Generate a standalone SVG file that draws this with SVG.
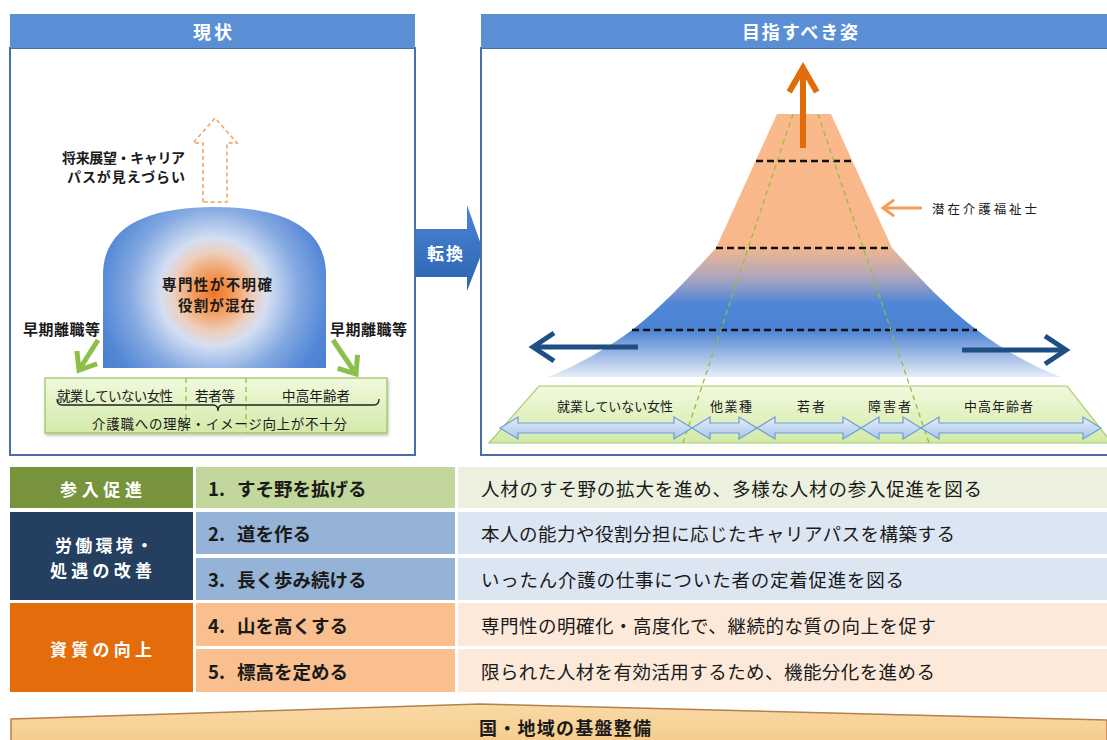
<svg xmlns="http://www.w3.org/2000/svg" width="1107" height="740" viewBox="0 0 1107 740">
<style>
text{font-family:"Noto Sans CJK JP","Noto Sans CJK SC",sans-serif;dominant-baseline:central;fill:#1a1a1a}
.hd{fill:#5a8fd6}
.hdt{fill:#ffffff;font-weight:700;font-size:18px}
.panel{fill:#ffffff;stroke:#4a6eaa;stroke-width:2}
.b{font-weight:700}
.sm{font-size:13.5px}
.lab{font-size:13px}
.blk{stroke:#111;stroke-width:2.5;stroke-dasharray:7 4;fill:none}
.gdash{stroke:#8dc040;stroke-width:1.3;stroke-dasharray:5 4;fill:none}
.dbl{fill:url(#gDbl);stroke:#6f9bd4;stroke-width:1.2}
.c2{font-size:18.5px;font-weight:700}
.c3{font-size:18.5px}
.c1{font-size:17px;font-weight:700;fill:#ffffff}
</style>
<defs>
<radialGradient id="gDome" gradientUnits="userSpaceOnUse" cx="214" cy="292" r="135">
<stop offset="0" stop-color="#f07424"/>
<stop offset="0.14" stop-color="#f39a58"/>
<stop offset="0.3" stop-color="#edd0c0"/>
<stop offset="0.4" stop-color="#d3dff2"/>
<stop offset="0.62" stop-color="#86aae2"/>
<stop offset="0.85" stop-color="#5387d6"/>
<stop offset="1" stop-color="#4a7fd0"/>
</radialGradient>
<linearGradient id="gMt" gradientUnits="userSpaceOnUse" x1="0" y1="114" x2="0" y2="377">
<stop offset="0" stop-color="#f9b98b"/>
<stop offset="0.5" stop-color="#f8b88b"/>
<stop offset="0.62" stop-color="#aea6bd"/>
<stop offset="0.72" stop-color="#5086d6"/>
<stop offset="0.82" stop-color="#4a82d4"/>
<stop offset="0.91" stop-color="#9ab6e4"/>
<stop offset="1" stop-color="#e6edf8"/>
</linearGradient>
<linearGradient id="gGreen" x1="0" y1="0" x2="0" y2="1">
<stop offset="0" stop-color="#f1f9de"/>
<stop offset="1" stop-color="#d3eaa8"/>
</linearGradient>
<linearGradient id="gDbl" x1="0" y1="0" x2="0" y2="1">
<stop offset="0" stop-color="#e4eefa"/>
<stop offset="1" stop-color="#a9c6ec"/>
</linearGradient>
<linearGradient id="gTrans" x1="0" y1="0" x2="0" y2="1">
<stop offset="0" stop-color="#4b86d3"/>
<stop offset="1" stop-color="#2c63b2"/>
</linearGradient>
<linearGradient id="gBase" x1="0" y1="0" x2="0" y2="1">
<stop offset="0" stop-color="#f9d9a6"/>
<stop offset="1" stop-color="#f7cd8d"/>
</linearGradient>
<filter id="sh" x="-5%" y="-20%" width="110%" height="150%">
<feDropShadow dx="1" dy="2" stdDeviation="1.5" flood-color="#000" flood-opacity="0.25"/>
</filter>
<marker id="mBlue" markerUnits="strokeWidth" viewBox="-5 -3.5 6 7" markerWidth="6" markerHeight="7" refX="0" refY="0" orient="auto" overflow="visible">
<path d="M-4.2,-2.8 L0,0 L-4.2,2.8" fill="none" stroke="#1f4e85" stroke-width="1"/>
</marker>
<marker id="mOrange" markerUnits="strokeWidth" viewBox="-5 -3 6 6" markerWidth="6" markerHeight="6" refX="0" refY="0" orient="auto" overflow="visible">
<path d="M-4,-2.3 L0,0 L-4,2.3" fill="none" stroke="#e36c0a" stroke-width="1"/>
</marker>
<marker id="mGreen" markerUnits="strokeWidth" viewBox="-4 -3 5 6" markerWidth="5" markerHeight="6" refX="0" refY="0" orient="auto" overflow="visible">
<path d="M-3,-2.4 L0,0 L-3,2.4" fill="none" stroke="#8cbf4b" stroke-width="1"/>
</marker>
<marker id="mOrangeS" markerUnits="strokeWidth" viewBox="-5 -3 6 6" markerWidth="6" markerHeight="6" refX="0" refY="0" orient="auto" overflow="visible">
<path d="M-3.7,-2.7 L0,0 L-3.7,2.7" fill="none" stroke="#f59d56" stroke-width="1"/>
</marker>
</defs>

<rect width="1107" height="740" fill="#ffffff"/>

<!-- Left panel -->
<g id="panel-current">
<rect class="panel" x="10" y="48" width="405" height="407"/>
<rect class="hd" x="10" y="14" width="405" height="34"/>
<text class="hdt" x="193" y="31" textLength="39">現状</text>
</g>

<g id="dome">
<path d="M103,368 L103,275 C103,225 150,207 214.5,207 C279,207 326,225 326,275 L326,368 Z" fill="url(#gDome)"/>
<text class="b" x="162" y="283" font-size="14.5" textLength="110">専門性が不明確</text>
<text class="b" x="178" y="304" font-size="14.5" textLength="77">役割が混在</text>
</g>

<g id="career-arrow">
<path d="M203,202 L203,143 L193,143 L215,118 L237,143 L227,143 L227,202 Z" fill="#ffffff" stroke="#f0a060" stroke-width="1.5" stroke-dasharray="4 3"/>
<text class="b" x="62" y="157" font-size="14" textLength="123">将来展望・キャリア</text>
<text class="b" x="67" y="176" font-size="14" textLength="118">パスが見えづらい</text>
</g>

<g id="early-leave-left">
<text class="b" x="23" y="328" font-size="15" textLength="77">早期離職等</text>
</g>
<g id="early-leave-right">
<text class="b" x="330" y="328" font-size="15" textLength="77">早期離職等</text>
</g>

<g id="current-groups">
<rect x="45" y="378" width="342" height="55" fill="url(#gGreen)" stroke="#9bc25a" stroke-width="1.2" filter="url(#sh)"/>
<line class="gdash" x1="186" y1="378" x2="186" y2="433"/>
<line class="gdash" x1="246" y1="378" x2="246" y2="433"/>
<text class="sm" x="57" y="395" textLength="116">就業していない女性</text>
<text class="sm" x="195" y="395" textLength="40">若者等</text>
<text class="sm" x="282" y="395" textLength="68">中高年齢者</text>
<path d="M57,399 Q57,405 62,405 L213,405 Q218,405 218,411 Q218,405 223,405 L374,405 Q379,405 379,399" fill="none" stroke="#222" stroke-width="1.3"/>
<text class="sm" x="92" y="423" textLength="255">介護職への理解・イメージ向上が不十分</text>
</g>

<!-- Transform arrow -->
<g id="transform">
<path d="M415,229 L467,229 L467,205 L483,250 L467,291 L467,277 L415,277 Z" fill="url(#gTrans)"/>
<text class="b" x="427" y="252" font-size="17" textLength="36" style="fill:#ffffff">転換</text>
</g>

<!-- Right panel -->
<g id="panel-target">
<rect class="panel" x="481" y="48" width="640" height="407"/>
<rect class="hd" x="481" y="14" width="640" height="34"/>
<text class="hdt" x="742" y="31" textLength="116">目指すべき姿</text>
</g>

<g id="mountain">
<path d="M777,114 L831,114 L892,248 C918,276 945,306 977,330 C1000,348 1030,365 1061,377 L548,377 C578,365 608,348 632,330 C663,306 690,276 716,248 Z" fill="url(#gMt)"/>
<line class="blk" x1="756" y1="161" x2="852" y2="161"/>
<line class="blk" x1="716" y1="248" x2="892" y2="248"/>
<line class="blk" x1="632" y1="330" x2="977" y2="330"/>
</g>

<g id="target-groups">
<path d="M539,386 L1067,386 L1112,443 L489,443 Z" fill="url(#gGreen)" stroke="#a8cc6a" stroke-width="1.2"/>
<line class="gdash" x1="793" y1="114" x2="683" y2="443"/>
<line class="gdash" x1="818" y1="114" x2="929" y2="443"/>
<path class="dbl" d="M500,428 L518,417 L518,423 L674,423 L674,417 L692,428 L674,439 L674,433 L518,433 L518,439 Z"/>
<path class="dbl" d="M692,428 L710,417 L710,423 L739,423 L739,417 L757,428 L739,439 L739,433 L710,433 L710,439 Z"/>
<path class="dbl" d="M757,428 L775,417 L775,423 L843,423 L843,417 L861,428 L843,439 L843,433 L775,433 L775,439 Z"/>
<path class="dbl" d="M861,428 L879,417 L879,423 L903,423 L903,417 L921,428 L903,439 L903,433 L879,433 L879,439 Z"/>
<path class="dbl" d="M921,428 L939,417 L939,423 L1083,423 L1083,417 L1101,428 L1083,439 L1083,433 L939,433 L939,439 Z"/>
<text class="lab" x="557" y="405" textLength="116">就業していない女性</text>
<text class="lab" x="710" y="405" textLength="42">他業種</text>
<text class="lab" x="797" y="405" textLength="28">若者</text>
<text class="lab" x="868" y="405" textLength="43">障害者</text>
<text class="lab" x="964" y="405" textLength="69">中高年齢者</text>
</g>

<g id="label-potential">
<text x="932" y="208" font-size="12.5" textLength="105">潜在介護福祉士</text>
</g>

<g id="connectors" fill="none">
<line x1="98" y1="340" x2="79" y2="370" stroke="#8cbf4b" stroke-width="5" marker-end="url(#mGreen)"/>
<line x1="333" y1="340" x2="356" y2="374" stroke="#8cbf4b" stroke-width="5" marker-end="url(#mGreen)"/>
<line x1="803" y1="148" x2="803" y2="68" stroke="#e36c0a" stroke-width="6" marker-end="url(#mOrange)"/>
<line x1="638" y1="347" x2="533" y2="347" stroke="#1f4e85" stroke-width="5" marker-end="url(#mBlue)"/>
<line x1="962" y1="350" x2="1066" y2="350" stroke="#1f4e85" stroke-width="5" marker-end="url(#mBlue)"/>
<line x1="922" y1="208" x2="883" y2="208" stroke="#f59d56" stroke-width="3" marker-end="url(#mOrangeS)"/>
</g>

<!-- Table -->
<g id="row-entry">
<rect x="10" y="467" width="183" height="41" fill="#77933c"/>
<text class="c1" x="60" y="488" textLength="82">参入促進</text>
<rect x="196" y="467" width="259" height="41" fill="#c3d69b"/>
<text class="c2" y="488"><tspan x="208">1. </tspan><tspan x="237">すそ野を拡げる</tspan></text>
<rect x="458" y="467" width="649" height="41" fill="#ebf1de"/>
<text class="c3" x="481" y="488" textLength="501">人材のすそ野の拡大を進め、多様な人材の参入促進を図る</text>
</g>

<g id="row-work">
<rect x="10" y="512" width="183" height="88" fill="#243f60"/>
<text class="c1" x="55" y="544" textLength="98">労働環境・</text>
<text class="c1" x="50" y="569" textLength="102">処遇の改善</text>
<rect x="196" y="512" width="259" height="42" fill="#95b3d7"/>
<text class="c2" y="533"><tspan x="208">2. </tspan><tspan x="237">道を作る</tspan></text>
<rect x="458" y="512" width="649" height="42" fill="#dce6f2"/>
<text class="c3" x="481" y="533" textLength="474">本人の能力や役割分担に応じたキャリアパスを構築する</text>
<rect x="196" y="558" width="259" height="42" fill="#95b3d7"/>
<text class="c2" y="579"><tspan x="208">3. </tspan><tspan x="237">長く歩み続ける</tspan></text>
<rect x="458" y="558" width="649" height="42" fill="#dce6f2"/>
<text class="c3" x="481" y="579" textLength="423">いったん介護の仕事についた者の定着促進を図る</text>
</g>

<g id="row-quality">
<rect x="10" y="603" width="183" height="89" fill="#e46c0a"/>
<text class="c1" x="50" y="648" textLength="102">資質の向上</text>
<rect x="196" y="603" width="259" height="43" fill="#fabf8f"/>
<text class="c2" y="625"><tspan x="208">4. </tspan><tspan x="237">山を高くする</tspan></text>
<rect x="458" y="603" width="649" height="43" fill="#fde9d9"/>
<text class="c3" x="481" y="625" textLength="455">専門性の明確化・高度化で、継続的な質の向上を促す</text>
<rect x="196" y="649" width="259" height="43" fill="#fabf8f"/>
<text class="c2" y="671"><tspan x="208">5. </tspan><tspan x="237">標高を定める</tspan></text>
<rect x="458" y="649" width="649" height="43" fill="#fde9d9"/>
<text class="c3" x="481" y="671" textLength="454">限られた人材を有効活用するため、機能分化を進める</text>
</g>

<g id="base">
<path d="M11,741 L11,719 L480,704 L1107,720 L1107,741 Z" fill="url(#gBase)" stroke="#b5804a" stroke-width="1.5"/>
<text class="b" x="479" y="727" font-size="18" textLength="172">国・地域の基盤整備</text>
</g>
</svg>
